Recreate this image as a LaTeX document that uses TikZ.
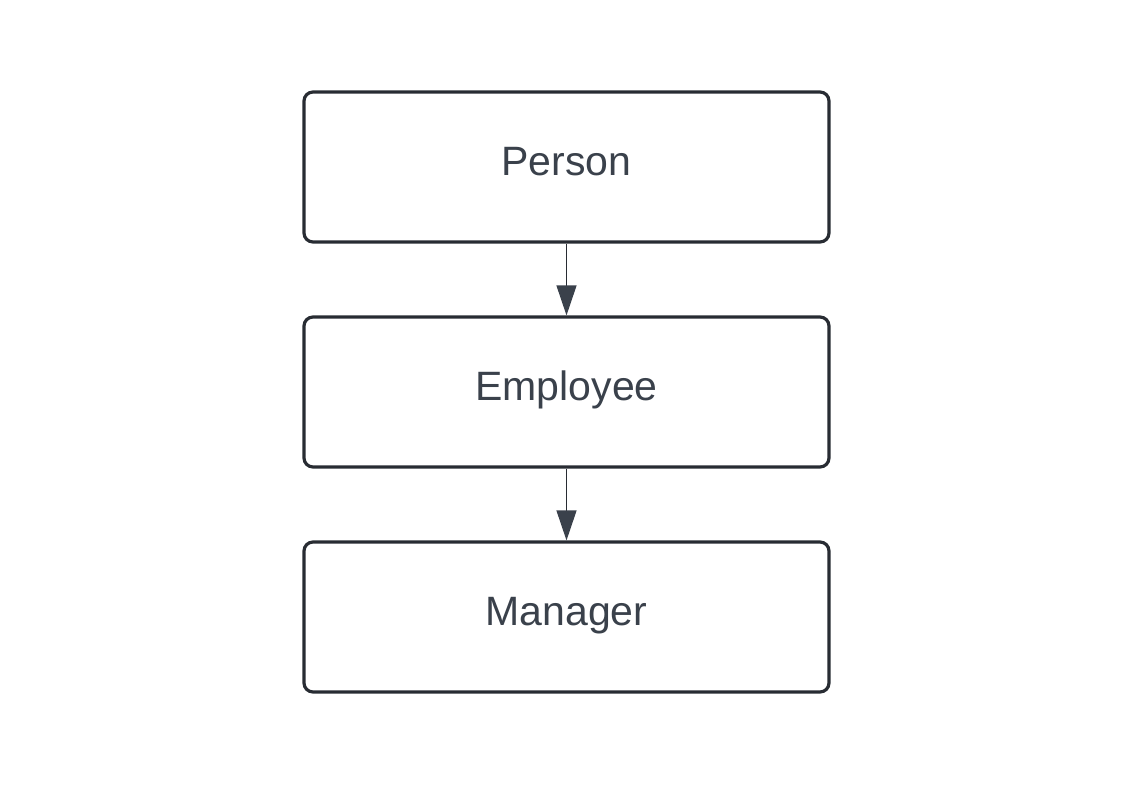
\documentclass[tikz,border=0pt]{standalone}
\usepackage{fontspec}
\setmainfont{Liberation Sans}
\usetikzlibrary{arrows.meta}
\definecolor{edge}{HTML}{282C33}
\definecolor{ink}{HTML}{3A414B}

\begin{document}
\begin{tikzpicture}[
	x=1pt, y=-1pt,
	cls/.style={draw=edge, line width=3.2pt, rounded corners=9pt, fill=white,
		minimum width=525pt, minimum height=150pt, inner sep=0pt,
		text height=28.5pt, text depth=12pt,
		text=ink, font=\fontsize{41}{45}\selectfont},
	inh/.style={draw=edge, line width=1.2pt,
		-{Triangle[width=20pt,length=30pt,color=ink]}}]
	\useasboundingbox (0,0) rectangle (1123,806);
	%\draw [help lines] (0,0) grid (1123,806);
	\node[cls] (P) at (566.5,167) {Person};
	\node[cls] (E) at (566.5,392) {Employee};
	\node[cls] (M) at (566.5,617) {Manager};
	\draw [inh] (P) -- (E);
	\draw [inh] (E) -- (M);
\end{tikzpicture}
\end{document}
